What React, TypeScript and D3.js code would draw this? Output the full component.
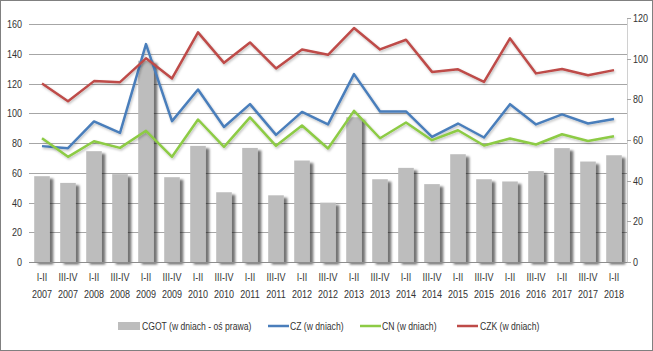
import React from "react";
import * as d3 from "d3";

const periods = ["I-II","III-IV","I-II","III-IV","I-II","III-IV","I-II","III-IV","I-II","III-IV","I-II","III-IV","I-II","III-IV","I-II","III-IV","I-II","III-IV","I-II","III-IV","I-II","III-IV","I-II"];
const years = ["2007","2007","2008","2008","2009","2009","2010","2010","2011","2011","2012","2012","2013","2013","2014","2014","2015","2015","2016","2016","2017","2017","2018"];
const cgot = [42.2,38.9,54.5,43.2,99,41.7,57.1,34.3,56.1,32.8,49.9,29.2,71.2,40.7,46.3,38.3,53,40.7,39.6,44.7,56,49.4,52.5];
const cz = [77.9,76.5,94.5,86.8,146.5,94.7,116.0,90.8,106.1,85.5,100.9,92.5,126.3,101.2,101.2,84.1,93.1,83.7,106.1,92.5,99.2,93.1,96.2];
const cn = [83.2,70.7,81.2,76.7,88.2,70.7,95.8,77.4,97.2,78.1,91.8,76.3,101.6,83.2,93.8,81.9,88.6,78.3,83.0,79.0,85.9,81.4,84.6];
const czk = [120.0,108.1,121.6,120.9,136.9,123.4,154.4,133.9,147.6,130.1,142.9,139.3,157.3,142.9,149.4,127.8,129.5,121.1,150.3,126.8,129.7,125.6,129.0];
const leftTicks = [0,20,40,60,80,100,120,140,160];
const rightTicks = [0,20,40,60,80,100,120];

const W = 653, H = 351;
const X0 = 29, X1 = 627, Y0 = 262;
const FONT = "'Liberation Sans', Arial, sans-serif";
const SX = 0.82;

function T({ x, y, anchor = "start", size = 11, children }: { x: number; y: number; anchor?: string; size?: number; children: React.ReactNode }) {
  return (
    <text transform={`translate(${x},${y}) scale(${SX},1)`} textAnchor={anchor as any} fontSize={size} fill="#333">{children}</text>
  );
}

export default function App() {
  const idx = periods.map((_, i) => i);
  const x = d3.scaleBand<number>().domain(idx).range([X0, X1]).paddingInner(0.4).paddingOuter(0.2);
  const yL = d3.scaleLinear().domain([0, 160]).range([Y0, 24]);
  const yR = d3.scaleLinear().domain([0, 120]).range([Y0, 18]);
  const cx = (i: number) => (x(i) as number) + x.bandwidth() / 2;
  const line = d3.line<number>().x((_, i) => cx(i)).y(v => yL(v));
  const series = [
    { data: cz, color: "#4A7EBB", name: "CZ (w dniach)" },
    { data: cn, color: "#8DCB45", name: "CN (w dniach)" },
    { data: czk, color: "#BE4B48", name: "CZK (w dniach)" },
  ];
  const legendLines = [
    { x: 268, tx: 290 },
    { x: 360, tx: 382 },
    { x: 457, tx: 480 },
  ];
  return (
    <svg width={W} height={H} style={{ position: "absolute", left: 0, top: 0, background: "#fff" }} fontFamily={FONT}>
      <defs>
        <filter id="barShadow" x="-30%" y="-10%" width="170%" height="130%">
          <feDropShadow dx="3.5" dy="2.5" stdDeviation="1.3" floodColor="#000" floodOpacity="0.55" />
        </filter>
        <filter id="lineShadow" x="-10%" y="-10%" width="120%" height="130%">
          <feDropShadow dx="1" dy="1.5" stdDeviation="1" floodColor="#000" floodOpacity="0.25" />
        </filter>
      </defs>
      <rect x={0.5} y={0.5} width={W - 1} height={H - 1} fill="#fff" stroke="#808080" strokeWidth={1} />
      {leftTicks.filter(t => t > 0).map(t => (
        <line key={t} x1={X0} x2={X1} y1={Math.round(yL(t)) + 0.5} y2={Math.round(yL(t)) + 0.5} stroke="#a6a6a6" strokeWidth={1} />
      ))}
      {leftTicks.map(t => (
        <T key={t} x={22} y={yL(t) + 4} anchor="end">{t}</T>
      ))}
      <line x1={X1 + 0.5} x2={X1 + 0.5} y1={18} y2={Y0} stroke="#d0d0d0" strokeWidth={1} />
      {rightTicks.map(t => (
        <g key={t}>
          <line x1={X1} x2={X1 + 4} y1={Math.round(yR(t)) + 0.5} y2={Math.round(yR(t)) + 0.5} stroke="#a6a6a6" />
          <T x={633} y={yR(t) + 4}>{t}</T>
        </g>
      ))}
      <g filter="url(#barShadow)">
        {cgot.map((v, i) => (
          <rect key={i} x={x(i)} y={yR(v)} width={x.bandwidth()} height={Y0 - yR(v)} fill="#BDBDBD" />
        ))}
      </g>
      <line x1={X0} x2={X1} y1={Y0 + 0.5} y2={Y0 + 0.5} stroke="#8c8c8c" strokeWidth={1} />
      {series.map(s => (
        <path key={s.name} d={line(s.data) || ""} fill="none" stroke={s.color} strokeWidth={2.5} strokeLinejoin="round" filter="url(#lineShadow)" />
      ))}
      {idx.map(i => (
        <g key={i}>
          <T x={cx(i)} y={281} anchor="middle">{periods[i]}</T>
          <T x={cx(i)} y={298} anchor="middle">{years[i]}</T>
        </g>
      ))}
      <rect x={118} y={322} width={22} height={8} fill="#BDBDBD" />
      <T x={142} y={330} size={10.5}>CGOT (w dniach - oś prawa)</T>
      {series.map((s, k) => (
        <g key={s.name}>
          <line x1={legendLines[k].x} x2={legendLines[k].x + 21} y1={326} y2={326} stroke={s.color} strokeWidth={2.5} />
          <T x={legendLines[k].tx} y={330} size={10.5}>{s.name}</T>
        </g>
      ))}
    </svg>
  );
}
